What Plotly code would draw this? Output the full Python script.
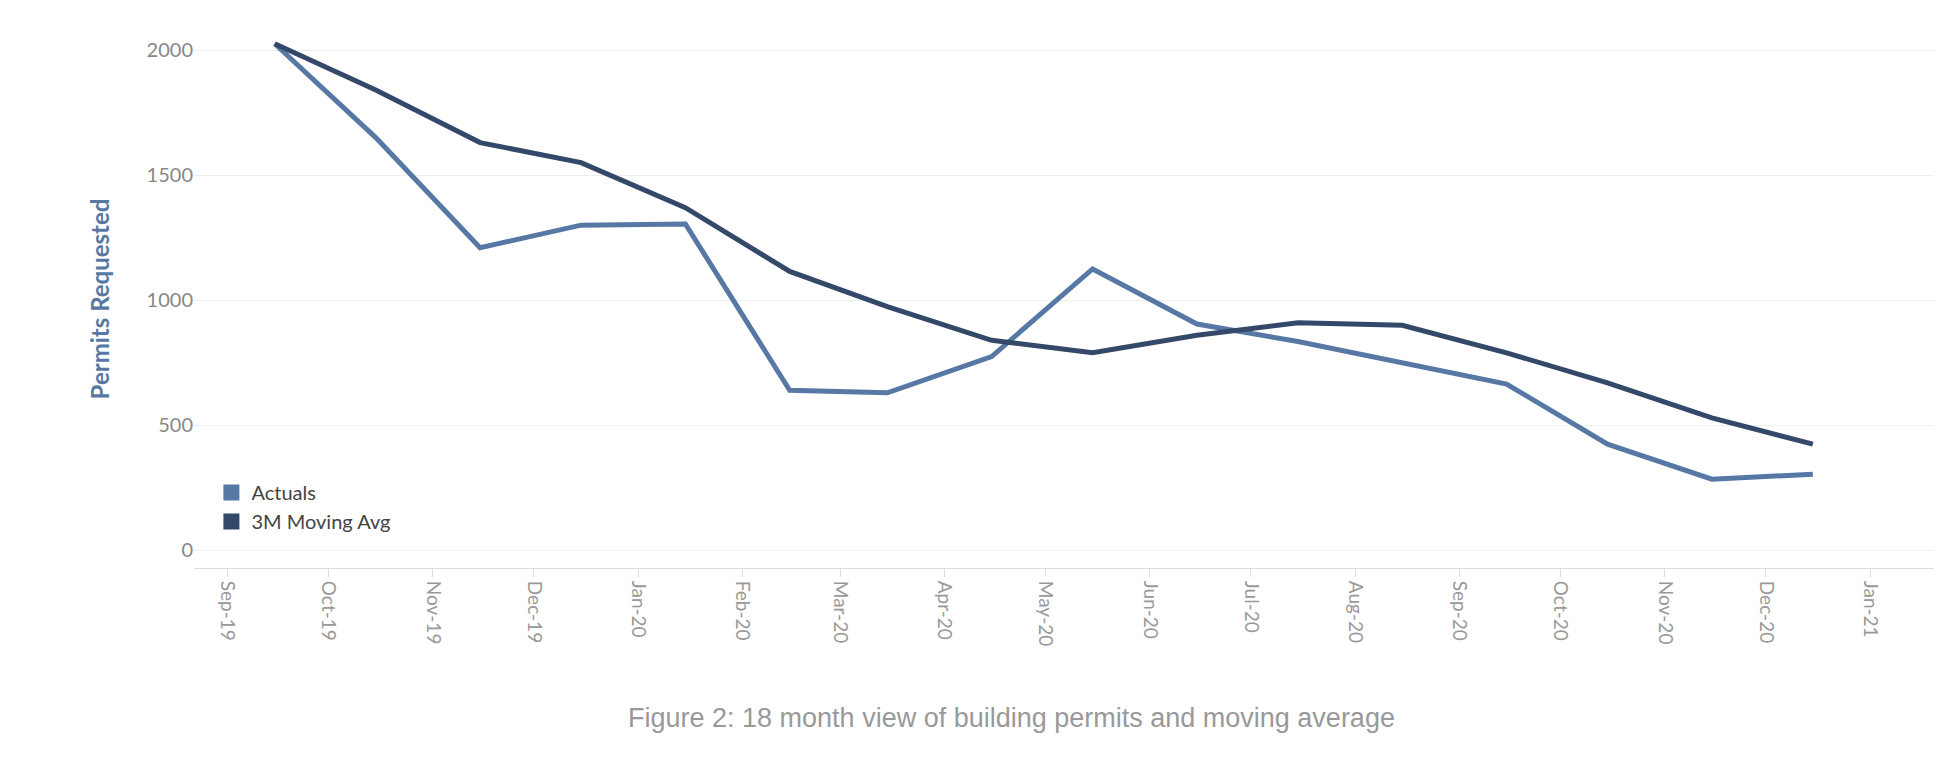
import plotly.graph_objects as go
import pandas as pd

# Data (mid-month points, Sep-19 .. Dec-20)
months = pd.date_range("2019-09-01", periods=16, freq="MS") + pd.Timedelta(days=14)
actuals = [2025, 1650, 1210, 1300, 1305, 640, 630, 775, 1125, 905, 835, 750, 665, 425, 285, 305]
moving_avg = [2025, 1840, 1630, 1550, 1370, 1115, 975, 840, 790, 860, 910, 900, 790, 670, 530, 425]
tick_dates = pd.date_range("2019-09-01", "2021-01-01", freq="MS")
tick_labels = [d.strftime("%b-%y") for d in tick_dates]

C_ACT = "#5778a4"
C_MA = "#34496a"

fig = go.Figure()
fig.add_trace(go.Scatter(x=months, y=actuals, mode="lines", line=dict(color=C_ACT, width=5),
                         showlegend=False))
fig.add_trace(go.Scatter(x=months, y=moving_avg, mode="lines", line=dict(color=C_MA, width=5),
                         showlegend=False))
# legend entries as squares
for name, col in [("Actuals", C_ACT), ("3M Moving Avg", C_MA)]:
    fig.add_trace(go.Scatter(x=[None], y=[None], mode="markers", name=name,
                             marker=dict(symbol="square", size=30, color=col)))

fig.update_layout(
    width=1948, height=760,
    paper_bgcolor="white", plot_bgcolor="white",
    margin=dict(l=186, r=22, t=22, b=200),
    font=dict(family="Lato, Open Sans, sans-serif", size=19, color="#888"),
    legend=dict(x=0.01, y=0.05, xanchor="left", yanchor="bottom", bgcolor="rgba(0,0,0,0)",
                font=dict(size=20, color="#444"), tracegroupgap=6),
    xaxis=dict(range=["2019-08-22", "2021-01-20"], tickvals=tick_dates, ticktext=tick_labels,
               tickangle=90, showgrid=False, ticks="outside", ticklen=8, tickcolor="#ddd",
               showline=True, linecolor="#ddd", tickfont=dict(size=19, color="#999")),
    yaxis=dict(range=[-70, 2080], tickvals=[0, 500, 1000, 1500, 2000], showgrid=True,
               gridcolor="#eee", zeroline=False, tickfont=dict(size=20, color="#888"),
               title=dict(text="<b>Permits Requested</b>", font=dict(size=24, color=C_ACT),
                          standoff=30)),
)
fig.add_annotation(text="Figure 2: 18 month view of building permits and moving average",
                   xref="paper", yref="paper", x=0.47, y=-0.31, showarrow=False,
                   font=dict(family="Liberation Sans, Arial", size=27, color="#999"))

fig.write_html("out.html")
